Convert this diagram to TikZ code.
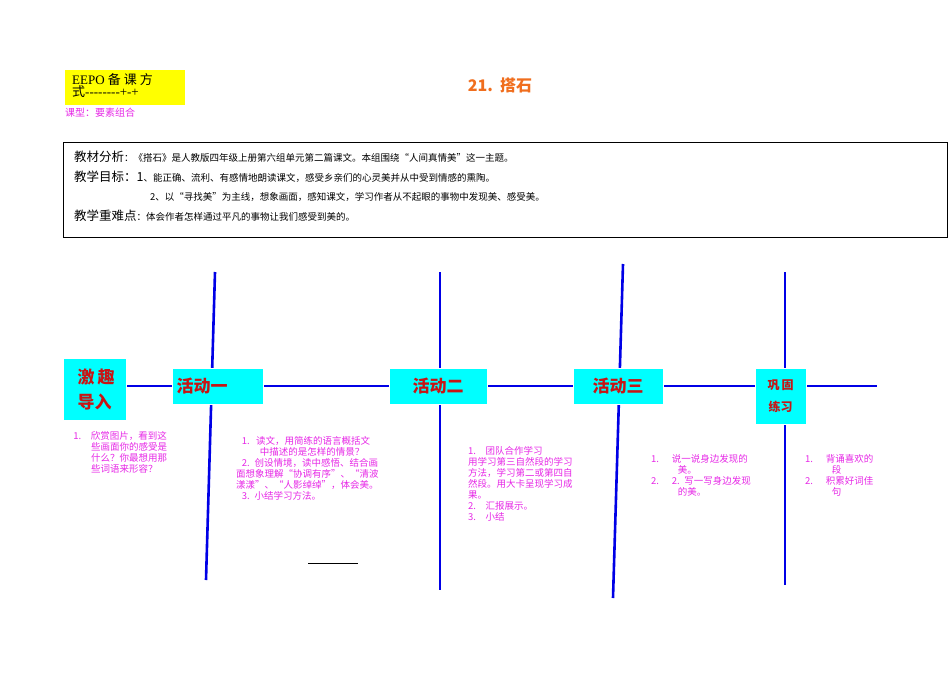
\documentclass[tikz,border=0pt]{standalone}
\usepackage{fontspec}
\setmainfont{Liberation Serif}
\newfontfamily\cjk{Noto Sans CJK SC}
\definecolor{cyb}{RGB}{0,255,255}
\definecolor{ylw}{RGB}{255,255,0}
\definecolor{blu}{RGB}{0,0,230}
\definecolor{mgt}{RGB}{230,40,230}
\definecolor{ttl}{RGB}{240,110,30}
\definecolor{rd}{RGB}{200,20,20}
\begin{document}
\begin{tikzpicture}[x=1pt,y=-1pt,
  bl/.style={draw=blu,line width=2.6pt},
  cy/.style={fill=cyb,draw=white,inner sep=0pt,font=\cjk\fontsize{17}{19}\selectfont\bfseries,text=rd},
  mg/.style={text=mgt,font=\cjk\fontsize{9.5}{11}\selectfont,align=left,anchor=north west,inner sep=0pt}]
\useasboundingbox (0,0) rectangle (950,672);
\node[fill=ylw,minimum width=120pt,minimum height=35pt,inner sep=0pt,anchor=north west] (yb) at (65,70) {};
\node[anchor=north west,inner sep=0pt,font=\fontsize{13}{13}\selectfont,align=left] (yt) at (72,73) {EEPO\ {\cjk 备\ 课\ 方}\\[-1pt]{\cjk 式}{-}{-}{-}{-}{-}{-}{-}{-}+{-}+};
\node[text=ttl,font=\cjk\fontsize{16}{18}\selectfont\bfseries] (title) at (500,85) {21.\ \ 搭石};
\node[mg,font=\cjk\fontsize{10}{12}\selectfont] (kx) at (65,108) {课型：要素组合};
\node[draw,thick,minimum width=884pt,minimum height=95pt,inner sep=0pt,anchor=north west] (box) at (63,142) {};
\node[anchor=west,inner sep=0pt,font=\cjk\fontsize{9.5}{11}\selectfont] (l1) at (74,157) {{\fontsize{12.5}{14}\selectfont 教材分析}：《搭石》是人教版四年级上册第六组单元第二篇课文。本组围绕“人间真情美”这一主题。};
\node[anchor=west,inner sep=0pt,font=\cjk\fontsize{9.5}{11}\selectfont] (l2) at (74,177) {{\fontsize{12.5}{14}\selectfont 教学目标：1}、能正确、流利、有感情地朗读课文，感受乡亲们的心灵美并从中受到情感的熏陶。};
\node[anchor=west,inner sep=0pt,font=\cjk\fontsize{9.5}{11}\selectfont] (l3) at (150,197) {2、以“寻找美”为主线，想象画面，感知课文，学习作者从不起眼的事物中发现美、感受美。};
\node[anchor=west,inner sep=0pt,font=\cjk\fontsize{9.5}{11}\selectfont] (l4) at (74,216) {{\fontsize{12.5}{14}\selectfont 教学重难点}：体会作者怎样通过平凡的事物让我们感受到美的。};
\coordinate (h0) at (65,386); \coordinate (h1) at (877,386);
\draw[bl] (h0) -- (h1);
\coordinate (a1) at (215,272); \coordinate (b1) at (206,580);
\coordinate (a2) at (440,272); \coordinate (b2) at (440,590);
\coordinate (a3) at (623,264); \coordinate (b3) at (613,598);
\coordinate (a4) at (785,272); \coordinate (b4) at (785,585);
\draw[bl] (a1)--(b1); \draw[bl] (a2)--(b2); \draw[bl] (a3)--(b3); \draw[bl] (a4)--(b4);
\node[cy,minimum width=63pt,minimum height=62pt,align=left,anchor=north west,font=\cjk\fontsize{17}{25}\selectfont\bfseries] (n0) at (63,358) {\,激\,趣\\\,导入};
\node[cy,minimum width=91pt,minimum height=36pt,anchor=north west,align=left,text width=88pt] (n1) at (172,368) {\,活动一};
\node[cy,minimum width=98pt,minimum height=36pt,anchor=north west] (n2) at (389,368) {活动二};
\node[cy,minimum width=90pt,minimum height=36pt,anchor=north west] (n3) at (573,368) {活动三};
\node[cy,minimum width=51pt,minimum height=56pt,anchor=north west,align=center,font=\cjk\fontsize{12}{22}\selectfont\bfseries] (n4) at (755,368) {巩\,固\\练习};
\node[mg,text width=125pt] (t0) at (70,431) {\ 1.\ \ \ 欣赏图片，看到这\\\hspace*{2.2em}些画面你的感受是\\\hspace*{2.2em}什么？你最想用那\\\hspace*{2.2em}些词语来形容？};
\node[mg,text width=180pt] (t1) at (236,436) {\hspace*{0.6em}1.\ \ 读文，用简练的语言概括文\\\hspace*{2.5em}中描述的是怎样的情景？\\\hspace*{0.6em}2. 创设情境，读中感悟、结合画\\面想象理解“协调有序”、“清波\\漾漾”、“人影绰绰”，体会美。\\\hspace*{0.6em}3. 小结学习方法。};
\node[mg,text width=150pt] (t2) at (468,446) {1.\ \ \ 团队合作学习\\用学习第三自然段的学习\\方法，学习第二或第四自\\然段。用大卡呈现学习成\\果。\\2.\ \ \ 汇报展示。\\3.\ \ \ 小结};
\node[mg,text width=140pt] (t3) at (651,454) {1.\ \ \ \ 说一说身边发现的\\\hspace*{2.8em}美。\\2.\ \ \ \ 2. 写一写身边发现\\\hspace*{2.8em}的美。};
\node[mg,text width=100pt] (t4) at (805,454) {1.\ \ \ \ 背诵喜欢的\\\hspace*{2.8em}段\\2.\ \ \ \ 积累好词佳\\\hspace*{2.8em}句};
\coordinate (s0) at (308,563); \coordinate (s1) at (358,563);
\draw[thick] (s0)--(s1);
\end{tikzpicture}
\end{document}
